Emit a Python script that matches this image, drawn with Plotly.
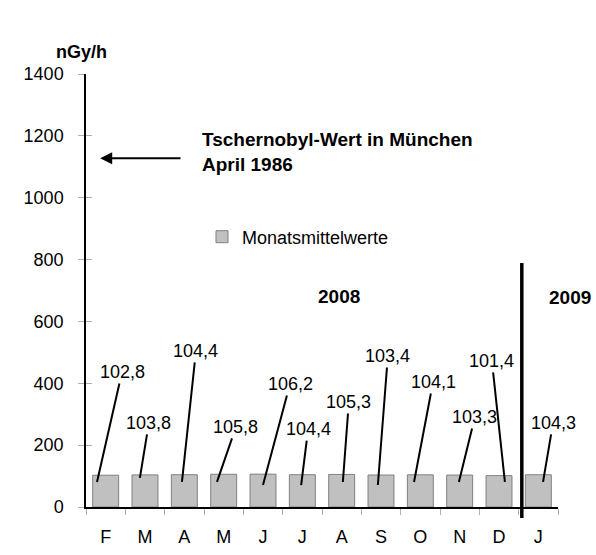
import plotly.graph_objects as go

# ---- data ----
periods = ["2008-02", "2008-03", "2008-04", "2008-05", "2008-06", "2008-07",
           "2008-08", "2008-09", "2008-10", "2008-11", "2008-12", "2009-01"]
month_labels = ["F", "M", "A", "M", "J", "J", "A", "S", "O", "N", "D", "J"]
values = [102.8, 103.8, 104.4, 105.8, 106.2, 104.4, 105.3, 103.4, 104.1, 103.3, 101.4, 104.3]
y_ticks = [0, 200, 400, 600, 800, 1000, 1200, 1400]
chernobyl_level = 1128
series_name = "Monatsmittelwerte"

# ---- label leader-line layout (offsets only) ----
anchor_dx = [-0.22, -0.13, -0.06, -0.17, 0.0, -0.03, 0.03, -0.08, -0.16, -0.02, 0.15, 0.12]
anchor_y = [81, 94, 81, 81, 71, 71, 81, 71, 81, 81, 81, 81]
label_ax = [25, 9, 14, 19, 27, 7, 6, 10, 19, 16, -13, 10]
label_ay = [-110, -55, -131, -55, -101, -56, -80, -129, -100, -65, -121, -59]

FONT = "Liberation Sans, Arial, sans-serif"
PW, PH = 472, 433  # plot area size in px


def px_x(px):
    return (px - 86) / PW


def px_y(py):
    return (507 - py) / PH


fig = go.Figure()
fig.add_trace(go.Bar(
    x=periods, y=values, name=series_name,
    marker=dict(color="#c0c0c0", line=dict(color="#808080", width=1)),
    showlegend=True,
))
# invisible helper trace for inner tick marks on y
fig.add_trace(go.Scatter(x=[periods[0]], y=[0], yaxis="y2", mode="markers",
                         marker=dict(opacity=0), showlegend=False, hoverinfo="skip"))

annotations = []
for i, v in enumerate(values):
    annotations.append(dict(
        x=i + anchor_dx[i], y=anchor_y[i], xref="x", yref="y",
        text=f"{v:.1f}".replace(".", ","),
        showarrow=True, arrowhead=0, arrowwidth=2, arrowcolor="black",
        ax=label_ax[i], ay=label_ay[i], standoff=0, startstandoff=0,
        font=dict(family=FONT, size=18, color="black"),
    ))

# Chernobyl arrow
annotations.append(dict(
    x=-0.14, y=chernobyl_level, xref="x", yref="y",
    ax=1.94, ay=chernobyl_level, axref="x", ayref="y",
    text="", showarrow=True, arrowhead=2, arrowsize=1.2, arrowwidth=2, arrowcolor="black",
))
annotations.append(dict(
    x=px_x(200), y=px_y(152), xref="paper", yref="paper",
    xanchor="left", yanchor="middle", align="left",
    text="<b>Tschernobyl-Wert in München<br>April 1986</b>",
    showarrow=False, font=dict(family=FONT, size=19, color="black"),
))
annotations.append(dict(
    x=px_x(81), y=px_y(52), xref="paper", yref="paper",
    xanchor="center", yanchor="middle", text="<b>nGy/h</b>",
    showarrow=False, font=dict(family=FONT, size=18, color="black"),
))
annotations.append(dict(
    x=px_x(339), y=px_y(296), xref="paper", yref="paper",
    xanchor="center", yanchor="middle", text="<b>2008</b>",
    showarrow=False, font=dict(family=FONT, size=19, color="black"),
))
annotations.append(dict(
    x=px_x(570), y=px_y(297), xref="paper", yref="paper",
    xanchor="center", yanchor="middle", text="<b>2009</b>",
    showarrow=False, font=dict(family=FONT, size=19, color="black"),
))

shapes = [dict(
    type="line", xref="x", yref="paper",
    x0=10.58, x1=10.58, y0=px_y(518), y1=px_y(263),
    line=dict(color="black", width=3.5),
)]

fig.update_layout(
    width=596, height=555,
    margin=dict(l=86, r=38, t=74, b=48, autoexpand=False),
    paper_bgcolor="white", plot_bgcolor="white",
    font=dict(family=FONT, size=18, color="black"),
    bargap=0.34,
    showlegend=True,
    legend=dict(x=px_x(202), y=px_y(237), xanchor="left", yanchor="middle",
                bgcolor="rgba(0,0,0,0)", font=dict(family=FONT, size=18, color="black"),
                itemwidth=30),
    xaxis=dict(
        type="category", categoryorder="array", categoryarray=periods,
        tickmode="array", tickvals=periods, ticktext=month_labels,
        tickson="boundaries", ticks="outside", ticklen=6, tickcolor="#b0b0b0",
        showline=True, linecolor="black", linewidth=1.5,
        showgrid=False, range=[-0.5, 11.5], ticklabelstandoff=13,
        tickfont=dict(family=FONT, size=18, color="black"),
    ),
    yaxis=dict(
        range=[0, 1400], tickvals=y_ticks, ticks="outside", ticklen=6, tickcolor="#b0b0b0",
        showline=True, linecolor="black", linewidth=1.5, showgrid=False, zeroline=False,
        ticklabelstandoff=11, tickfont=dict(family=FONT, size=18, color="black"),
    ),
    yaxis2=dict(
        overlaying="y", range=[0, 1400], tickvals=y_ticks, ticks="inside", ticklen=6,
        tickcolor="#b0b0b0", showticklabels=False, showline=False, showgrid=False,
        zeroline=False, side="left",
    ),
    annotations=annotations,
    shapes=shapes,
)

# remove the default 8px page margin so the figure fills the window exactly
fig.write_html(
    "out.html",
    config={"displayModeBar": False},
    post_script="document.body.style.margin='0';document.documentElement.style.overflow='hidden';",
)
